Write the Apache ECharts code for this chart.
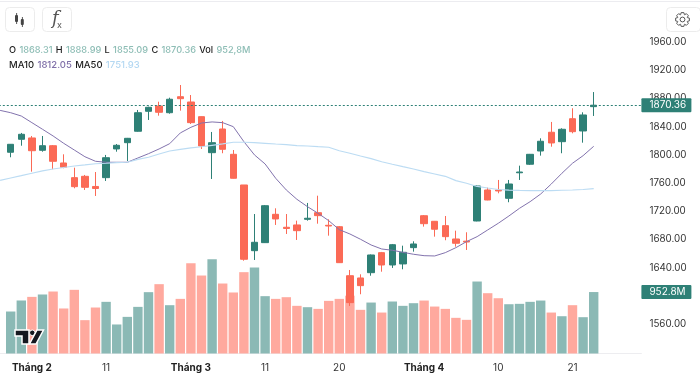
<!DOCTYPE html>
<html><head><meta charset="utf-8">
<style>html,body{margin:0;padding:0;background:#fff}#c{width:700px;height:380px}#c canvas{filter:blur(.4px)}</style>
<script src="https://cdn.jsdelivr.net/npm/echarts@6/dist/echarts.min.js"></script>
</head><body><div id="c"></div>
<script>
const xLabels = ['', '', '', 'Tháng 2', '', '', '', '', '', '', '11', '', '', '', '', '', '', '', 'Tháng 3', '', '', '', '', '', '', '11', '', '', '', '', '', '', '20', '', '', '', '', '', '', '', 'Tháng 4', '', '', '', '', '', '', '10', '', '', '', '', '', '', '21', '', '', '', '', '', ''];
const opens = [null,1803.6,1822,1823.9,1806.4,1812.9,1788.4,1767.6,1769.5,1755.1,1767.6,1808.3,1817.2,1833.4,1861.7,1869.2,1859.7,1882.4,1874.9,1854.1,1803,1836.6,1800.7,1757.2,1664,1675.4,1715.6,1697.2,1700.5,1708.5,1717.9,1700,1698,1628.5,1625.3,1632.8,1661.2,1643.7,1645.2,1668.3,1713.6,1705.7,1699.5,1680.6,1677.5,1706.1,1750.1,1750.1,1738.3,1774.5,1786.6,1805.4,1832,1818.6,1851.2,1833.8,1868.31];
const closes = [null,1814.9,1829.1,1805.8,1812.9,1790.8,1782.3,1754.8,1753.9,1752.2,1795.9,1813.5,1823.4,1859.7,1867.4,1860.3,1878.8,1879.6,1845.6,1812.5,1817.2,1807.8,1766.7,1651.8,1675.9,1727.8,1709,1695.5,1692.4,1710,1713.7,1699,1647,1590.3,1614.4,1657.9,1643.7,1672.5,1661.7,1673.5,1702.3,1694.4,1683.9,1674.5,1676.3,1755.8,1735.9,1748.7,1758.6,1775.6,1800.7,1819.2,1816.8,1836.2,1832.8,1856.5,1870.36];
const lows = [null,1796.5,1812.9,1776.1,1804.4,1779.5,1780.9,1752.5,1750.1,1741.6,1762.9,1804.4,1791.2,1832.8,1849.4,1855.5,1858.3,1862.6,1843.7,1808.3,1765.7,1802.2,1766.3,1649.8,1650.8,1674.9,1700.5,1687.7,1679.2,1706.6,1702.3,1685.3,1646.6,1585.6,1602.2,1628.5,1634.2,1639.5,1637.6,1662.6,1698.1,1683.9,1678.8,1669.7,1665,1705.7,1735.5,1745.4,1732.7,1764.3,1785.6,1798.8,1811.5,1802.2,1830.5,1817.2,1855.09];
const highs = [null,1815.3,1831,1826.7,1826.7,1813.9,1800.7,1781.7,1771.4,1775.6,1799.8,1815.3,1823.9,1863.6,1868.2,1875.3,1881,1899,1884.8,1854.4,1832.4,1848,1806.8,1757.2,1716,1728.8,1724.1,1716,1706.6,1731.7,1742,1708.5,1699,1636.6,1630.5,1658.6,1662.2,1673.5,1671.1,1677.3,1714.6,1706.1,1713.2,1692.4,1690.1,1756.5,1753.4,1764.3,1764.3,1784.6,1801.2,1823.4,1846.6,1837.6,1866,1860.3,1888.99];
const volumes = [null,651,822,878,915,961,698,987,517,713,801,450,568,723,951,1075,749,847,1400,1209,1462,1085,946,1261,1333,889,847,873,739,718,692,816,847,896,677,790,635,806,739,780,821,728,692,553,522,1116,935,857,764,770,801,821,635,578,749,563,952.8];
const ma10 = [1863,1859.7,1855,1845.6,1836.2,1826.7,1816.3,1806.8,1797.3,1790.8,1789.4,1789.4,1789.4,1795.5,1801.6,1808.3,1815.8,1831,1839,1845.1,1846.6,1845.6,1839.9,1818.6,1799.8,1787,1766.7,1750.1,1736.9,1726.4,1717,1706.6,1693.8,1687.7,1680.2,1672.1,1666.4,1664.6,1661.7,1658.9,1656.9,1656.5,1661.2,1668.3,1676.8,1683.9,1693.4,1702.9,1713.2,1724.1,1733.5,1744.4,1758.6,1773.8,1788,1798.8,1812.05];
const ma50 = [1763.8,1767.1,1770.4,1773.8,1777.1,1779.9,1782,1784.1,1785.6,1787.3,1788,1788.8,1789.4,1793.4,1796.5,1801.2,1805.4,1807.6,1809.7,1811.4,1813.5,1815.6,1817.8,1817.8,1817.2,1816.3,1815.3,1814.4,1812.9,1812.5,1811.5,1810.7,1805.8,1802.2,1798.3,1794.5,1790.2,1786.6,1783.2,1779.9,1776.1,1772.8,1769.5,1763.3,1759.6,1755.1,1752.9,1750.8,1749.8,1749.4,1749.1,1749.1,1749.2,1749.7,1750.1,1750.8,1751.93];
const lastPrice = 1870.36, lastVol = 952.8;

const UP='#2e8076', DOWN='#fb6a56', VUP='#8bb9b5', VDOWN='#ffa99e', FONT='Inter, Roboto, sans-serif';
const candleData = opens.map((o,i)=>o===null?['-','-','-','-']:[o,closes[i],lows[i],highs[i]]);
const volData = volumes.map((v,i)=>({value:v===null?'-':v,itemStyle:{color:closes[i]>=opens[i]?VUP:VDOWN}}));

function gearPoints(cx,cy,r1,r2,n){
  const out=[];
  for(let i=0;i<n;i++){
    const a=i/n*Math.PI*2-Math.PI/2, w=Math.PI/n;
    [[r1,a-w*0.95],[r2,a-w*0.5],[r2,a+w*0.5],[r1,a+w*0.95]].forEach(([r,t])=>out.push([cx+r*Math.cos(t),cy+r*Math.sin(t)]));
  }
  return out;
}
const btn=(x,y,w,h)=>({type:'rect',shape:{x,y,width:w,height:h,r:4},style:{fill:'#fff',stroke:'#ececec',lineWidth:1},z:20});
const bar=(x,y,w,h)=>({type:'rect',shape:{x,y,width:w,height:h,r:1},style:{fill:'#444'},z:21});
const rich=(LF)=>({k:{fill:'#1c1c1c',fontSize:LF,fontFamily:FONT,fontWeight:500},g:{fill:'#8dbdb5',fontSize:LF,fontFamily:FONT,fontWeight:500},
  p:{fill:'#7f6fa8',fontSize:LF,fontFamily:FONT,fontWeight:500},b:{fill:'#b4d8f2',fontSize:LF,fontFamily:FONT,fontWeight:500}});

const graphic=[
  {type:'line',shape:{x1:0,y1:1.5,x2:700,y2:1.5},style:{stroke:'#ececf0',lineWidth:1},z:20},
  btn(5.5,7.5,29,24),btn(42.5,7.5,29,24),btn(666.5,7.5,34,24),
  {type:'rect',shape:{x:16.2,y:13,width:0.9,height:11},style:{fill:'#444'},z:21},bar(15,15,3,7),
  {type:'rect',shape:{x:21.9,y:17,width:0.9,height:10},style:{fill:'#444'},z:21},bar(20.8,19,3,6),
  {type:'text',style:{x:52,y:10,text:'f',font:'italic 18px "DejaVu Serif", serif',fill:'#555'},z:21},
  {type:'text',style:{x:57,y:21,text:'x',font:'9px '+FONT,fill:'#555'},z:21},
  {type:'polygon',shape:{points:gearPoints(682.5,19.5,5.2,7,8)},style:{fill:'none',stroke:'#555',lineWidth:1},z:21},
  {type:'circle',shape:{cx:682.5,cy:19.5,r:2.4},style:{fill:'none',stroke:'#555',lineWidth:1},z:21},
  {type:'text',style:{x:9,y:44,text:'{k|O} {g|1868.31} {k|H} {g|1888.99} {k|L} {g|1855.09} {k|C} {g|1870.36} {k|Vol} {g|952,8M}',rich:rich(9.2)},z:21},
  {type:'text',style:{x:9,y:59,text:'{k|MA10} {p|1812.05} {k|MA50} {b|1751.93}',rich:rich(9.5)},z:21},
  {type:'polygon',shape:{points:[[15,330],[29,330],[29,344],[22,344],[22,336],[15,336]]},style:{fill:'#15181f',stroke:'#fff',lineWidth:1.5},z:22},
  {type:'circle',shape:{cx:32.3,cy:332.8,r:2.8},style:{fill:'#15181f',stroke:'#fff',lineWidth:1},z:22},
  {type:'polygon',shape:{points:[[37,330],[43.5,330],[36,344],[29.5,344]]},style:{fill:'#15181f',stroke:'#fff',lineWidth:1.5},z:22}
];

const chart=echarts.init(document.getElementById('c'),null,{renderer:'canvas'});
chart.setOption({
  animation:false,
  backgroundColor:'#fff',
  graphic,
  grid:[
    {left:-5.2,width:646.6,top:42,height:310.2,outerBoundsMode:'none'},
    {left:-5.2,width:646.6,top:250.3,height:103.2,outerBoundsMode:'none'}
  ],
  xAxis:[
    {type:'category',gridIndex:0,data:xLabels,boundaryGap:true,axisLine:{show:false},axisTick:{show:false},axisLabel:{show:false},splitLine:{show:false}},
    {type:'category',gridIndex:1,data:xLabels,boundaryGap:true,
      axisLine:{show:true,lineStyle:{color:'#ededf0',width:1}},axisTick:{show:false},splitLine:{show:false},
      axisLabel:{show:true,interval:0,margin:9,fontFamily:FONT,fontSize:10,color:'#333',hideOverlap:false,
        formatter:v=>v.startsWith('Tháng')?'{b|'+v+'}':v,
        rich:{b:{fontWeight:700,fontFamily:FONT,fontSize:10,color:'#222'}}}}
  ],
  yAxis:[
    {type:'value',gridIndex:0,position:'right',min:1520,max:1960,interval:40,scale:true,
      axisLine:{show:false},axisTick:{show:false},splitLine:{show:false},
      axisLabel:{showMinLabel:false,margin:8,fontFamily:FONT,fontSize:9.8,color:'#333',formatter:v=>v.toFixed(2)}},
    {type:'value',gridIndex:1,position:'right',min:0,max:1600,show:false}
  ],
  series:[
    {type:'bar',name:'Vol',xAxisIndex:1,yAxisIndex:1,data:volData,barWidth:9.4,z:1,
      markLine:{silent:true,symbol:'none',precision:1,animation:false,data:[{yAxis:lastVol}],lineStyle:{color:'rgba(0,0,0,0)',width:1},
        label:{show:true,position:'end',distance:0,formatter:()=>lastVol.toFixed(1)+'M',backgroundColor:UP,color:'#fff',
          fontFamily:FONT,fontSize:10,padding:[2,3,2,8],borderRadius:1,width:39,align:'left'}}},
    {type:'candlestick',name:'Price',xAxisIndex:0,yAxisIndex:0,data:candleData,barWidth:7,z:3,
      itemStyle:{color:UP,color0:DOWN,borderColor:UP,borderColor0:DOWN,borderWidth:1},
      markLine:{silent:true,symbol:'none',precision:2,animation:false,data:[{yAxis:lastPrice}],
        lineStyle:{type:[2,2],color:UP,width:1},
        label:{show:true,position:'end',distance:0,formatter:()=>lastPrice.toFixed(2),backgroundColor:UP,color:'#fff',
          fontFamily:FONT,fontSize:10,padding:[2,3,2,8],borderRadius:1,width:39,align:'left'}}},
    {type:'line',name:'MA10',xAxisIndex:0,yAxisIndex:0,data:ma10,showSymbol:false,smooth:false,z:4,lineStyle:{color:'#8273ad',width:1}},
    {type:'line',name:'MA50',xAxisIndex:0,yAxisIndex:0,data:ma50,showSymbol:false,smooth:false,z:4,lineStyle:{color:'#bcdcf3',width:1.2}}
  ]
});
</script></body></html>
